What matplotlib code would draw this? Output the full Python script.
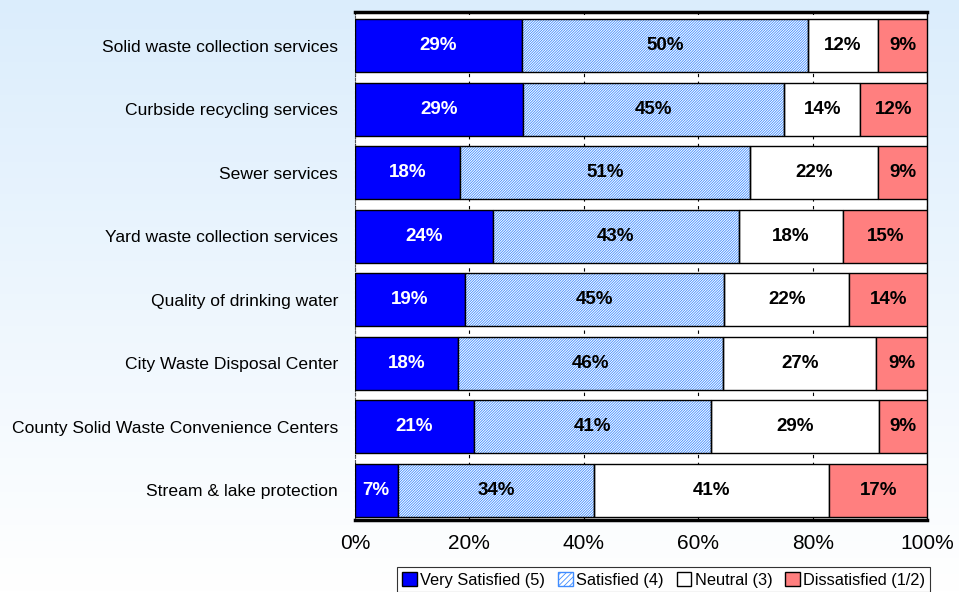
import numpy as np
import matplotlib.pyplot as plt
from matplotlib.patches import Patch

plt.rcParams['font.family'] = ['Liberation Sans', 'DejaVu Sans']
plt.rcParams['hatch.linewidth'] = 0.6

# categories, top to bottom
services = ['Solid waste collection services', 'Curbside recycling services',
            'Sewer services', 'Yard waste collection services',
            'Quality of drinking water', 'City Waste Disposal Center',
            'County Solid Waste Convenience Centers', 'Stream & lake protection']

# shares in percent
very_satisfied = [29.2, 29.4, 18.4, 24.1, 19.2, 18.0, 20.8, 7.5]
satisfied = [50.0, 45.6, 50.6, 43.0, 45.3, 46.3, 41.4, 34.3]
neutral = [12.1, 13.3, 22.3, 18.2, 21.9, 26.8, 29.4, 41.1]
dissatisfied = [8.7, 11.7, 8.7, 14.7, 13.6, 8.9, 8.4, 17.1]

# printed labels
lab_vs = [29, 29, 18, 24, 19, 18, 21, 7]
lab_s = [50, 45, 51, 43, 45, 46, 41, 34]
lab_n = [12, 14, 22, 18, 22, 27, 29, 41]
lab_d = [9, 12, 9, 15, 14, 9, 9, 17]

series_names = ['Very Satisfied (5)', 'Satisfied (4)', 'Neutral (3)', 'Dissatisfied (1/2)']

fig = plt.figure(figsize=(9.59, 5.92), dpi=100)

# gradient background
bg = fig.add_axes([0, 0, 1, 1], zorder=-10)
grad = np.linspace(0, 1, 256).reshape(-1, 1)
top = np.array([0.86, 0.93, 0.99])
bot = np.array([1.0, 1.0, 1.0])
img = top * (1 - grad[..., None]) + bot * grad[..., None]
bg.imshow(img, aspect='auto', extent=[0, 1, 0, 1])
bg.axis('off')

ax = fig.add_axes([0.370, 0.1216, 0.597, 0.858])
ax.set_facecolor('white')

y = np.arange(len(services))
h = 0.84
vs = np.array(very_satisfied)
s = np.array(satisfied)
n = np.array(neutral)
d = np.array(dissatisfied)

hatch_blue = '#3F8CFF'
ax.barh(y, vs, height=h, color='#0000FF', edgecolor='black', linewidth=1, zorder=3)
ax.barh(y, s, left=vs, height=h, color='white', edgecolor=hatch_blue, hatch='/' * 13,
        linewidth=0, zorder=3)
ax.barh(y, s, left=vs, height=h, fill=False, edgecolor='black', linewidth=1, zorder=4)
ax.barh(y, n, left=vs + s, height=h, color='white', edgecolor='black', linewidth=1, zorder=3)
ax.barh(y, d, left=vs + s + n, height=h, color='#FF7F7F', edgecolor='black', linewidth=1, zorder=3)

lbl = dict(ha='center', va='center', fontsize=13.5, fontweight='bold', zorder=5)
for i in range(len(services)):
    ax.text(vs[i] / 2, y[i], f'{lab_vs[i]}%', color='white', **lbl)
    ax.text(vs[i] + s[i] / 2, y[i], f'{lab_s[i]}%', color='black', **lbl)
    ax.text(vs[i] + s[i] + n[i] / 2, y[i], f'{lab_n[i]}%', color='black', **lbl)
    ax.text(vs[i] + s[i] + n[i] + d[i] / 2, y[i], f'{lab_d[i]}%', color='black', **lbl)

ax.set_xlim(0, 100)
ax.set_ylim(len(services) - 0.53, -0.53)
ax.set_yticks(y)
ax.set_yticklabels(services, fontsize=12.6)
ax.set_xticks([0, 20, 40, 60, 80, 100])
ax.set_xticklabels(['0%', '20%', '40%', '60%', '80%', '100%'], fontsize=15)
ax.tick_params(axis='both', length=0)
ax.tick_params(axis='y', pad=12)
ax.tick_params(axis='x', pad=10)
ax.xaxis.grid(True, linestyle=(0, (3, 4)), color='black', linewidth=0.8, zorder=0)
ax.set_axisbelow(True)

ax.spines['top'].set_linewidth(2.5)
ax.spines['bottom'].set_linewidth(2.5)
ax.spines['right'].set_linewidth(1)
ax.spines['left'].set_linestyle((0, (2, 2)))
ax.spines['left'].set_color('#555555')

handles = [Patch(facecolor='#0000FF', edgecolor='black'),
           Patch(facecolor='white', edgecolor=hatch_blue, hatch='/' * 6),
           Patch(facecolor='white', edgecolor='black'),
           Patch(facecolor='#FF7F7F', edgecolor='black')]
leg = fig.legend(handles, series_names, loc='upper right', bbox_to_anchor=(0.970, 0.042),
                 ncol=4, fontsize=11.8, frameon=True, fancybox=False, edgecolor='black',
                 handlelength=0.9, handleheight=0.9, handletextpad=0.2, columnspacing=0.8,
                 borderpad=0.3, borderaxespad=0)
leg.get_frame().set_linewidth(0.8)

fig.savefig('out.png', dpi=100)
